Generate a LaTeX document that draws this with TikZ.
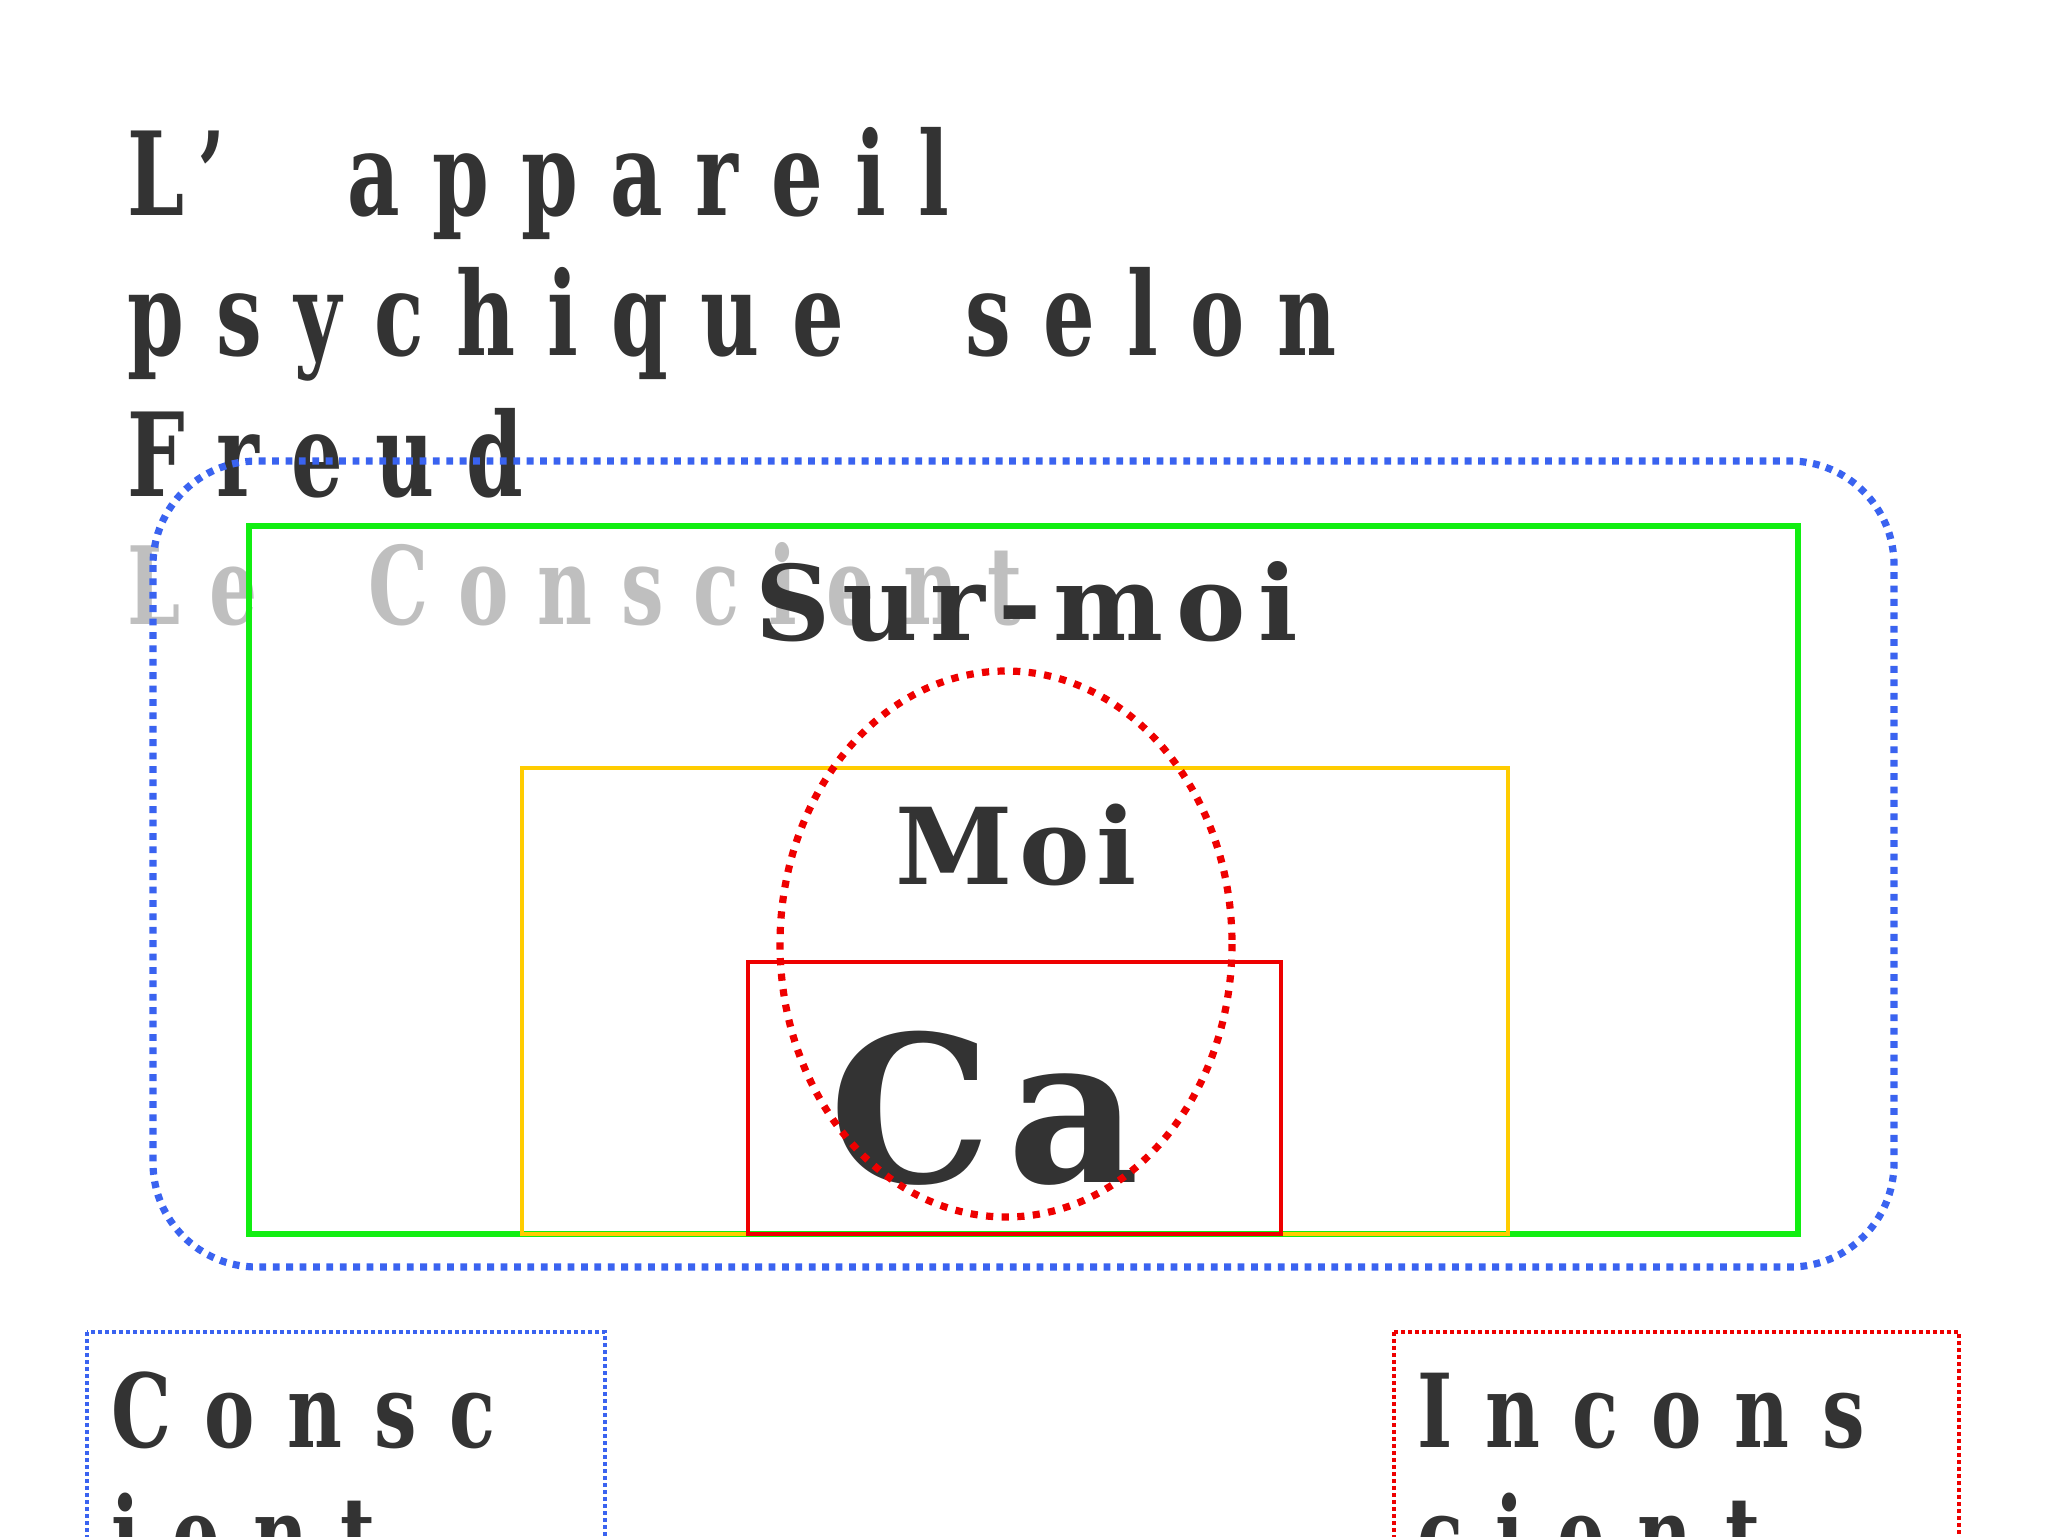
\documentclass[tikz,border=0pt]{standalone}
\usepackage{fontspec}
\setmainfont{DejaVu Serif}
\newfontfamily\condb{DejaVu Serif}[FakeStretch=0.7,LetterSpace=28]
\newfontfamily\condg{DejaVu Serif}[FakeStretch=0.7,LetterSpace=27]
\newfontfamily\condr{DejaVu Serif}[FakeStretch=0.74,LetterSpace=32]
\newfontfamily\spsm{DejaVu Serif}[LetterSpace=12]
\newfontfamily\spmoi{DejaVu Serif}[LetterSpace=6]
\newfontfamily\spca{DejaVu Serif}[LetterSpace=8]
\definecolor{txt}{HTML}{333333}
\definecolor{grayt}{HTML}{BFBFBF}
\definecolor{bl}{HTML}{3A63F0}
\definecolor{gr}{HTML}{11EE11}
\definecolor{yl}{HTML}{FFCC00}
\definecolor{rd}{HTML}{EE0000}
\tikzset{
  lbl/.style={inner sep=0pt, anchor=base west, text=txt},
  bluedot/.style={draw=bl, line width=3.6pt, dash pattern=on 3.4pt off 3.3pt},
  reddot/.style={draw=rd, line width=3.6pt, dash pattern=on 3.6pt off 4.2pt},
  finebl/.style={draw=bl, line width=2pt, dash pattern=on 1.8pt off 1.7pt},
  finerd/.style={draw=rd, line width=2pt, dash pattern=on 1.8pt off 1.7pt},
}
\begin{document}
\begin{tikzpicture}[x=0.5pt,y=-0.5pt]
\useasboundingbox (0,0) rectangle (2048,1536);
\clip (0,0) rectangle (2048,1536);
% title
\node[lbl] (t1) at (127,215) {\condb\bfseries\fontsize{58}{70}\selectfont L’\ \ appareil};
\node[lbl] (t2) at (127,355) {\condb\bfseries\fontsize{58}{70}\selectfont psychique\ \ selon};
\node[lbl] (t3) at (127,496) {\condb\bfseries\fontsize{58}{70}\selectfont Freud};
\node[lbl, text=grayt] (lc) at (127,624) {\condg\bfseries\fontsize{54}{66}\selectfont Le\ \ Conscient};
\node[lbl] (sm) at (755,640) {\spsm\bfseries\fontsize{52}{64}\selectfont Sur-moi};
\node[lbl] (moi) at (895,884) {\spmoi\bfseries\fontsize{53}{64}\selectfont Moi};
\node[lbl] (ca) at (829,1182) {\spca\bfseries\fontsize{102}{120}\selectfont Ca};
\node[lbl] (c1) at (111,1447) {\condr\bfseries\fontsize{51}{62}\selectfont Consc};
\node[lbl] (c2) at (111,1570) {\condr\bfseries\fontsize{51}{62}\selectfont ient};
\node[lbl] (i1) at (1417,1447) {\condr\bfseries\fontsize{51}{62}\selectfont Incons};
\node[lbl] (i2) at (1417,1570) {\condr\bfseries\fontsize{51}{62}\selectfont cient};
% shapes
\draw[bluedot, rounded corners=52pt] (153,461) rectangle (1894,1267);
\draw[gr, line width=2.8pt] (249,526) rectangle (1798,1234);
\draw[yl, line width=2.2pt] (522,768) rectangle (1508,1234);
\draw[rd, line width=2.2pt] (748,962) rectangle (1281,1234);
\draw[reddot] (1006,944) ellipse [x radius=226, y radius=273];
\draw[finebl] (87,1332) rectangle (605,1700);
\draw[finerd] (1394,1332) rectangle (1959,1700);
\end{tikzpicture}
\end{document}
